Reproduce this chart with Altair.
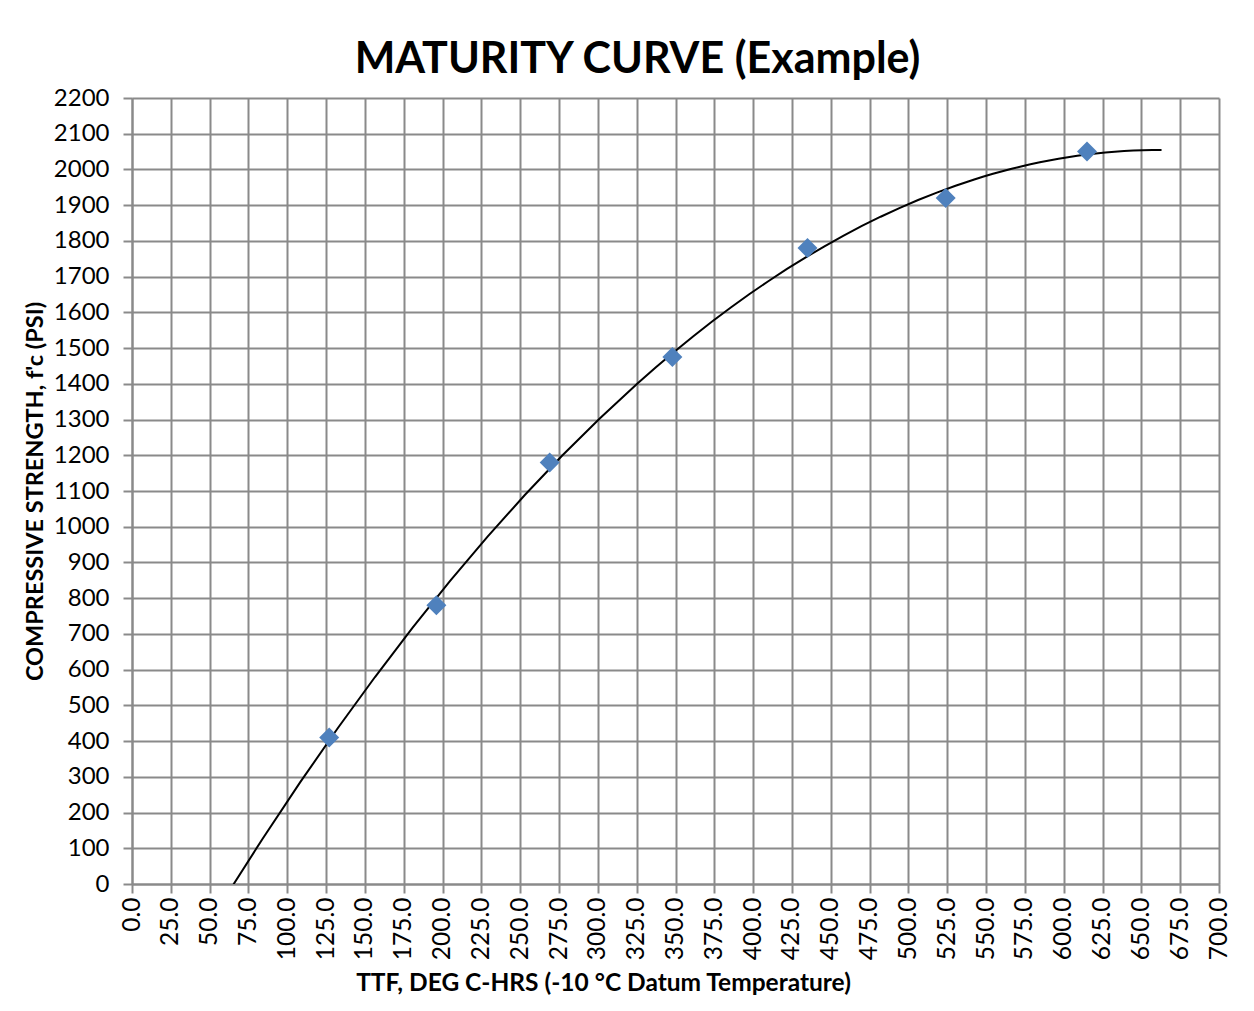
import altair as alt
import pandas as pd

ttf = [127, 196, 269, 348, 435, 524, 615]
strength = [410, 780, 1180, 1475, 1780, 1920, 2050]
trend_extent = [60, 663]
x_ticks = [i * 25 for i in range(29)]
y_ticks = [i * 100 for i in range(23)]

df = pd.DataFrame({"ttf": ttf, "strength": strength})

FONT = "Lato"
GRID = "#8a8a8a"

x_enc = alt.X(
    "ttf:Q",
    scale=alt.Scale(domain=[0, 700], nice=False, zero=False),
    axis=alt.Axis(
        values=x_ticks,
        format=".1f",
        labelAngle=270,
        labelFontSize=24.5,
        labelFont=FONT,
        labelColor="#000000",
        labelPadding=4,
        tickSize=9,
        tickColor=GRID,
        tickWidth=2,
        domainColor=GRID,
        domainWidth=2,
        gridColor=GRID,
        gridWidth=2,
        title="TTF, DEG C-HRS (-10 °C Datum Temperature)",
        titleFont=FONT,
        titleFontSize=24.5,
        titleFontWeight="bold",
        titleColor="#000000",
        titleX=471,
        titleY=99,
        titleAlign="center",
        titleBaseline="middle",
    ),
)

y_enc = alt.Y(
    "strength:Q",
    scale=alt.Scale(domain=[0, 2200], nice=False),
    axis=alt.Axis(
        values=y_ticks,
        format="d",
        labelFontSize=24,
        labelFont=FONT,
        labelColor="#000000",
        labelPadding=14,
        tickSize=9,
        tickColor=GRID,
        tickWidth=2,
        domainColor=GRID,
        domainWidth=2,
        gridColor=GRID,
        gridWidth=2,
        title="COMPRESSIVE STRENGTH, f'c (PSI)",
        titleFont=FONT,
        titleFontSize=23.5,
        titleFontWeight="bold",
        titleColor="#000000",
        titleX=-97,
        titleY=393,
        titleAlign="center",
        titleBaseline="middle",
    ),
)

points = alt.Chart(df).mark_point(
    shape="diamond", filled=True, size=400, color="#4F81BD", opacity=1
).encode(x=x_enc, y=y_enc)

trend = (
    alt.Chart(df)
    .transform_regression("ttf", "strength", method="poly", order=2, extent=trend_extent)
    .mark_line(color="#000000", strokeWidth=2, clip=True)
    .encode(x=x_enc, y=y_enc)
)

chart = (
    alt.layer(trend, points)
    .properties(
        width=1087,
        height=786,
        title=alt.TitleParams(
            "MATURITY CURVE (Example)",
            font=FONT,
            fontSize=43,
            fontWeight="bold",
            color="#000000",
            anchor="middle",
            dx=-38,
            offset=4,
        ),
        autosize=alt.AutoSizeParams(type="none"),
        padding={"left": 124, "top": 90, "right": 27, "bottom": 119},
    )
    .configure_view(stroke=None)
)

chart.save("out.html", embed_options={"renderer": "svg", "actions": False})
